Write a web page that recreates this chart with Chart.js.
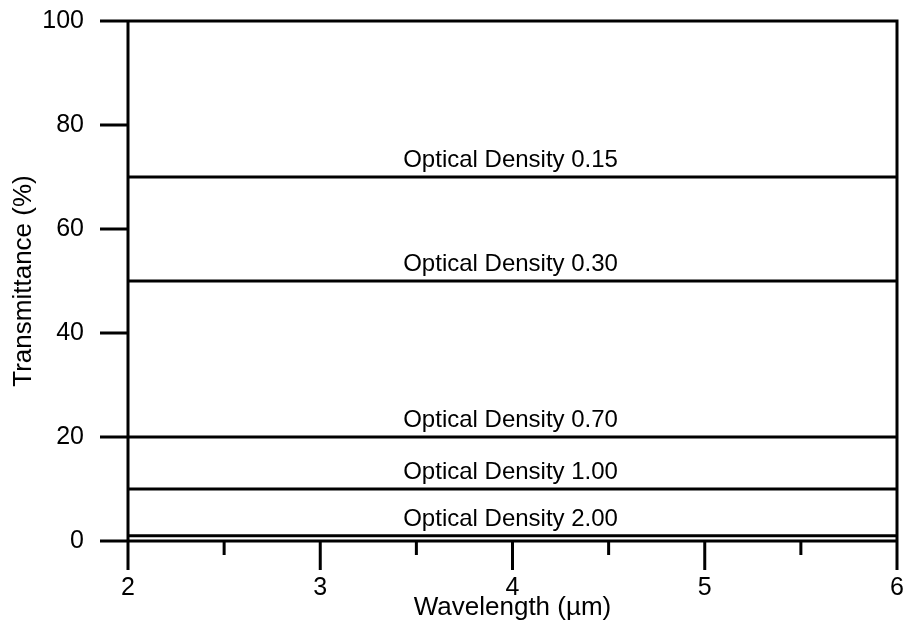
<!DOCTYPE html>
<html>
<head>
<meta charset="utf-8">
<script src="https://cdn.jsdelivr.net/npm/chart.js@4.4.1/dist/chart.umd.min.js"></script>
<style>
  html, body { margin: 0; padding: 0; background: #fff; }
  #wrap { width: 913px; height: 628px; }
</style>
</head>
<body>
<div id="wrap"><canvas id="myChart"></canvas></div>
<script>
// data
const wavelengthRange = [2, 6];
const transmittance = [70, 50, 20, 10, 1];
const densityLabels = ['Optical Density 0.15', 'Optical Density 0.30', 'Optical Density 0.70', 'Optical Density 1.00', 'Optical Density 2.00'];
const labelAt = 3.99; // wavelength where the text sits
const xMajorTicks = [2, 3, 4, 5, 6];
const xMinorTicks = [2.5, 3.5, 4.5, 5.5];
const yTicks = [0, 20, 40, 60, 80, 100];

const FONT = 'Arial, "Liberation Sans", sans-serif';

const datasets = transmittance.map((t, i) => ({
  label: densityLabels[i],
  data: wavelengthRange.map(w => ({ x: w, y: t })),
  showLine: true,
  borderColor: '#000',
  borderWidth: 3,
  pointRadius: 0,
  clip: false
}));

// frame, tick marks and the text above each line
const framePlugin = {
  id: 'frame',
  afterDraw(chart) {
    const ctx = chart.ctx;
    const xs = chart.scales.x, ys = chart.scales.y;
    const L = xs.getPixelForValue(wavelengthRange[0]);
    const R = xs.getPixelForValue(wavelengthRange[1]);
    const T = ys.getPixelForValue(100);
    const B = ys.getPixelForValue(0);
    ctx.save();
    ctx.strokeStyle = '#000';
    ctx.lineWidth = 3;
    ctx.lineCap = 'butt';
    ctx.beginPath();
    ctx.moveTo(L, T); ctx.lineTo(L, B);
    ctx.moveTo(R, T - 1.5); ctx.lineTo(R, B);
    ctx.moveTo(L - 28, T); ctx.lineTo(R + 1.5, T);
    ctx.moveTo(L - 28, B); ctx.lineTo(R + 1.5, B);
    yTicks.forEach(v => {
      const p = ys.getPixelForValue(v);
      ctx.moveTo(L - 28, p); ctx.lineTo(L, p);
    });
    xMajorTicks.forEach(v => {
      const p = xs.getPixelForValue(v);
      ctx.moveTo(p, B); ctx.lineTo(p, B + 29);
    });
    xMinorTicks.forEach(v => {
      const p = xs.getPixelForValue(v);
      ctx.moveTo(p, B); ctx.lineTo(p, B + 14);
    });
    ctx.stroke();

    ctx.fillStyle = '#000';
    ctx.font = '24px ' + FONT;
    ctx.textAlign = 'center';
    ctx.textBaseline = 'alphabetic';
    transmittance.forEach((t, i) => {
      ctx.fillText(densityLabels[i], xs.getPixelForValue(labelAt), ys.getPixelForValue(t) - 10);
    });
    ctx.restore();
  }
};

const ctx = document.getElementById('myChart').getContext('2d');
const myChart = new Chart(ctx, {
  type: 'scatter',
  data: { datasets: datasets },
  options: {
    responsive: true,
    maintainAspectRatio: false,
    animation: false,
    layout: { padding: { top: 21, right: 16, left: 0, bottom: 0 } },
    plugins: { legend: { display: false }, tooltip: { enabled: false } },
    scales: {
      x: {
        type: 'linear',
        min: wavelengthRange[0],
        max: wavelengthRange[1],
        afterBuildTicks: scale => { scale.ticks = xMajorTicks.map(v => ({ value: v })); },
        afterFit: scale => { scale.height = 87; scale.paddingLeft = 0; scale.paddingRight = 0; },
        grid: { display: true, drawOnChartArea: false, drawTicks: true, tickLength: 28, tickColor: 'transparent' },
        border: { display: false },
        ticks: { color: '#000', padding: 4, font: { family: FONT, size: 25 } },
        title: { display: true, text: 'Wavelength (µm)', color: '#000', font: { family: FONT, size: 26 }, padding: { bottom: 5 } }
      },
      y: {
        min: 0,
        max: 100,
        afterBuildTicks: scale => { scale.ticks = yTicks.map(v => ({ value: v })); },
        afterFit: scale => { scale.width = 128; scale.paddingTop = 0; scale.paddingBottom = 0; },
        grid: { display: true, drawOnChartArea: false, drawTicks: true, tickLength: 28, tickColor: 'transparent' },
        border: { display: false },
        ticks: { color: '#000', padding: 16, font: { family: FONT, size: 25 } },
        title: { display: true, text: 'Transmittance (%)', color: '#000', font: { family: FONT, size: 26 }, padding: { top: 8 } }
      }
    }
  },
  plugins: [framePlugin]
});
</script>
</body>
</html>
